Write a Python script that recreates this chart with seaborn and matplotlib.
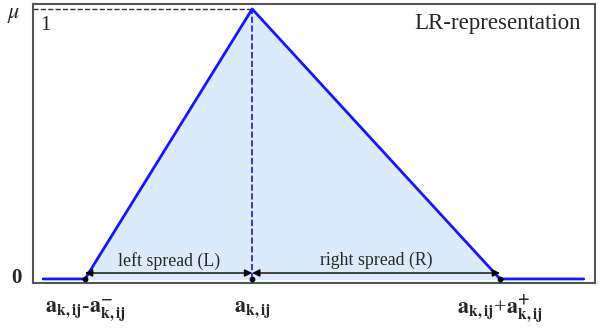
import numpy as np
import pandas as pd
import matplotlib
matplotlib.use('Agg')
import matplotlib.pyplot as plt
import seaborn as sns

# membership function points (LR triangular number)
x_pts = [0.18, 0.925, 3.90, 8.31, 9.80]
mu_pts = [0.0, 0.0, 1.0, 0.0, 0.0]
a_left, a_mid, a_right = 0.925, 3.90, 8.31
spread_labels = ['left spread (L)', 'right spread (R)']
x_labels = [r'$\mathbf{a}_{\mathbf{k,ij}}$-$\mathbf{a}^{\mathbf{-}}_{\mathbf{k,ij}}$',
            r'$\mathbf{a}_{\mathbf{k,ij}}$',
            r'$\mathbf{a}_{\mathbf{k,ij}}$+$\mathbf{a}^{\mathbf{+}}_{\mathbf{k,ij}}$']

sns.set_style('white')
plt.rcParams['font.family'] = ['Liberation Serif', 'DejaVu Serif']
plt.rcParams['mathtext.fontset'] = 'stix'

df = pd.DataFrame({'x': x_pts, 'mu': mu_pts})

fig = plt.figure(figsize=(6.03, 3.28), dpi=100)
ax = fig.add_axes([33/603, 1-283/328, 562/603, 279/328])

tri_x = [a_left, a_mid, a_right]
tri_y = [0, 1, 0]
ax.fill_between(tri_x, tri_y, 0, color='#dcebfb', zorder=1)
sns.lineplot(data=df, x='x', y='mu', color='#1515ff', lw=2, ax=ax, zorder=3)

# peak guides
ax.plot([0, a_mid], [1, 1], ls='--', color='#333333', lw=1, zorder=2)
ax.plot([a_mid, a_mid], [0, 1], ls='--', color='#1515ff', lw=1.2, zorder=2)

# spread arrows
arr_y = 0.022
for x0, x1, lab in [(a_left, a_mid, spread_labels[0]), (a_mid, a_right, spread_labels[1])]:
    ax.annotate('', xy=(x1, arr_y), xytext=(x0, arr_y),
                arrowprops=dict(arrowstyle='<|-|>', color='black', lw=1,
                                mutation_scale=11, shrinkA=0, shrinkB=0))
    ax.text((x0 + x1) / 2, 0.068, lab, ha='center', va='center', fontsize=12.8)

ax.scatter([a_left, a_mid, a_right], [0, 0, 0], s=10, color='black', zorder=5)

ax.set_xlim(0, 10)
ax.set_ylim(-0.015, 1.0185)
ax.set_xticks([])
ax.set_yticks([])
ax.set_xlabel('')
ax.set_ylabel('')
for sp in ax.spines.values():
    sp.set_color('#555555')
    sp.set_linewidth(1.5)

ax.text(-0.2, 0.005, '0', ha='right', va='center', fontsize=15, fontweight='bold')
ax.text(-0.22, 0.975, r'$\mu$', ha='right', va='center', fontsize=16)
ax.text(0.12, 0.94, '1', ha='left', va='center', fontsize=15)
ax.text(9.75, 0.945, 'LR-representation', ha='right', va='center', fontsize=16.5)

for xv, lab in zip([a_left, a_mid, a_right], x_labels):
    ax.text(xv, -0.115, lab, ha='center', va='center', fontsize=16)

plt.savefig('out.png', dpi=100)
